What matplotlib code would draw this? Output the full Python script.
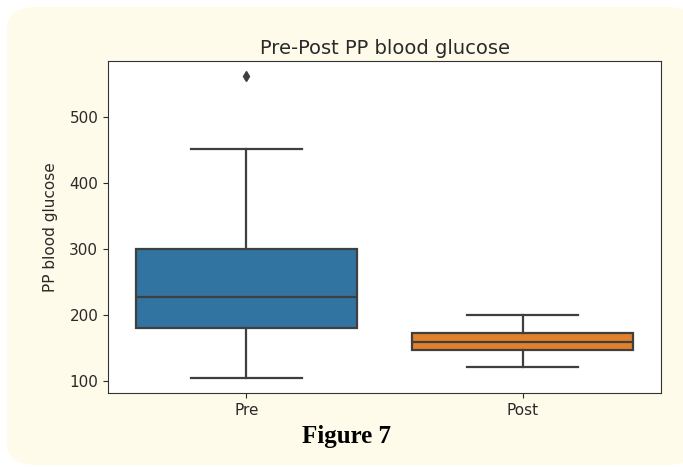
import matplotlib
matplotlib.use("Agg")
import matplotlib.pyplot as plt
from matplotlib.patches import FancyBboxPatch

# Summary statistics of PP blood glucose (mg/dL)
groups = ["Pre", "Post"]
whisker_low = [104, 121]
q1 = [179, 147]
median = [227, 159]
q3 = [299, 172]
whisker_high = [452, 200]
outliers = [[562], []]

box_colors = ["#3274a1", "#e1812c"]
line_color = "#3f3f3f"
panel_color = "#fefbea"

fig = plt.figure(figsize=(6.83, 4.67), dpi=100)
fig.patch.set_facecolor("white")

# Rounded cream panel behind the chart
panel = FancyBboxPatch((7 / 683, 2 / 467), 690 / 683, 458 / 467,
                       boxstyle="round,pad=0,rounding_size=0.045",
                       transform=fig.transFigure, facecolor=panel_color,
                       edgecolor="none", zorder=-10)
fig.patches.append(panel)

ax = fig.add_axes([108 / 683, 1 - 393 / 467, 553 / 683, 332 / 467])
ax.set_facecolor("white")
ax.set_zorder(1)

stats = []
for i, g in enumerate(groups):
    stats.append(dict(label=g, whislo=whisker_low[i], q1=q1[i], med=median[i],
                      q3=q3[i], whishi=whisker_high[i], fliers=outliers[i]))

lw = 1.6
bp = ax.bxp(stats, positions=range(len(groups)), widths=0.8, patch_artist=True,
            boxprops=dict(edgecolor=line_color, linewidth=lw),
            medianprops=dict(color=line_color, linewidth=lw),
            whiskerprops=dict(color=line_color, linewidth=lw),
            capprops=dict(color=line_color, linewidth=lw),
            flierprops=dict(marker="d", markerfacecolor=line_color,
                            markeredgecolor=line_color, markersize=5),
            capwidths=0.4)
for patch, c in zip(bp["boxes"], box_colors):
    patch.set_facecolor(c)

ax.set_xlim(-0.5, 1.5)
ax.set_yticks([100, 200, 300, 400, 500])
ax.tick_params(labelsize=11, colors="#2a2a2a")
ax.set_ylabel("PP blood glucose", fontsize=11, color="#2a2a2a", labelpad=8)
ax.set_title("Pre-Post PP blood glucose", fontsize=14, color="#2a2a2a", pad=5)
for s in ax.spines.values():
    s.set_color("#333333")

fig.text(347 / 683, 1 - 437 / 467, "Figure 7", ha="center", va="center",
         fontsize=18, fontweight="bold", family="Liberation Serif")

fig.savefig("out.png", dpi=100, facecolor=fig.get_facecolor())
